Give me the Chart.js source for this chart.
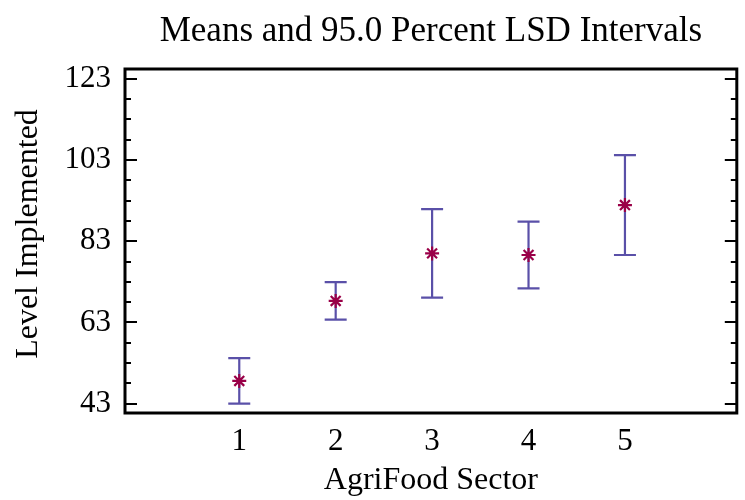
<!DOCTYPE html>
<html>
<head>
<meta charset="utf-8">
<script src="https://cdn.jsdelivr.net/npm/chart.js@4.4.1/dist/chart.umd.min.js"></script>
<style>
html,body{margin:0;padding:0;background:#fff;overflow:hidden;width:745px;height:500px;}
#wrap{position:absolute;left:0;top:0;width:750px;height:500px;}
</style>
</head>
<body>
<div id="wrap"><canvas id="c"></canvas></div>
<script>
const titleText = 'Means and 95.0 Percent LSD Intervals';
const xTitle = 'AgriFood Sector';
const yTitle = 'Level Implemented';
const sectors = [1, 2, 3, 4, 5];
const means = [48.6, 68.3, 80.0, 79.6, 91.9];
const lower = [43.0, 63.7, 69.1, 71.4, 79.6];
const upper = [54.2, 72.9, 90.9, 87.8, 104.2];
const yMajorTicks = [43, 63, 83, 103, 123];
const yMinorTicks = [48, 53, 58, 68, 73, 78, 88, 93, 98, 108, 113, 118];
const xTicks = [1, 2, 3, 4, 5];

const FONT = '"Liberation Serif", "Times New Roman", serif';
const BAR_COLOR = '#5a50a8';
const MARK_COLOR = '#9a0048';

const barPts = [];
sectors.forEach((s, i) => {
  barPts.push({x: s, y: lower[i]});
  barPts.push({x: s, y: upper[i]});
  barPts.push({x: s, y: null});
});

const framePlugin = {
  id: 'frame',
  afterDraw(chart) {
    const ctx = chart.ctx;
    const a = chart.chartArea;
    const y = chart.scales.y;
    ctx.save();
    ctx.strokeStyle = '#000';
    ctx.lineWidth = 2;
    const tick = (v, len) => {
      const py = Math.round(y.getPixelForValue(v));
      ctx.beginPath();
      ctx.moveTo(a.left, py); ctx.lineTo(a.left + len, py);
      ctx.moveTo(a.right, py); ctx.lineTo(a.right - len, py);
      ctx.stroke();
    };
    yMajorTicks.forEach(v => tick(v, 12));
    yMinorTicks.forEach(v => tick(v, 6));
    ctx.lineWidth = 3;
    ctx.strokeRect(a.left, a.top, a.right - a.left, a.bottom - a.top);
    ctx.fillStyle = '#000';
    ctx.font = '35px ' + FONT;
    ctx.textAlign = 'center';
    ctx.textBaseline = 'alphabetic';
    ctx.fillText(titleText, (a.left + a.right) / 2, 41);
    ctx.save();
    ctx.translate(29, 234);
    ctx.rotate(-Math.PI / 2);
    ctx.font = '32px ' + FONT;
    ctx.textBaseline = 'middle';
    ctx.fillText(yTitle, 0, 0);
    ctx.restore();
    ctx.restore();
  }
};

new Chart(document.getElementById('c'), {
  type: 'scatter',
  data: {
    datasets: [
      {
        label: 'Means',
        data: sectors.map((s, i) => ({x: s, y: means[i]})),
        pointStyle: 'star',
        pointRadius: 7,
        pointHoverRadius: 7,
        borderColor: MARK_COLOR,
        backgroundColor: MARK_COLOR,
        pointBorderWidth: 2.2,
        showLine: false
      },
      {
        label: 'LSD',
        data: barPts,
        showLine: true,
        spanGaps: false,
        borderColor: BAR_COLOR,
        borderWidth: 2.2,
        pointStyle: 'line',
        pointRadius: 11,
        pointHoverRadius: 11,
        pointBorderColor: BAR_COLOR,
        pointBorderWidth: 2.2,
        backgroundColor: BAR_COLOR
      }
    ]
  },
  options: {
    responsive: true,
    maintainAspectRatio: false,
    animation: false,
    events: [],
    layout: {padding: {left: 0, right: 4, top: 69, bottom: 0}},
    plugins: {legend: {display: false}, tooltip: {enabled: false}, title: {display: false}},
    scales: {
      x: {
        type: 'linear',
        min: -0.185,
        max: 6.16,
        afterBuildTicks: s => { s.ticks = xTicks.map(v => ({value: v})); },
        afterFit: s => { s.height = 87; },
        grid: {display: false, drawTicks: false},
        border: {display: false},
        ticks: {color: '#000', font: {family: FONT, size: 31}, padding: 10, maxRotation: 0, autoSkip: false},
        title: {display: true, text: xTitle, color: '#000', font: {family: FONT, size: 32}, padding: {top: 0, bottom: 0}}
      },
      y: {
        type: 'linear',
        min: 40.7,
        max: 125.4,
        afterBuildTicks: s => { s.ticks = yMajorTicks.map(v => ({value: v})); },
        afterFit: s => { s.width = 125; },
        grid: {display: false, drawTicks: false},
        border: {display: false},
        ticks: {color: '#000', font: {family: FONT, size: 31}, padding: 14, autoSkip: false},
        title: {display: false}
      }
    }
  },
  plugins: [framePlugin]
});
</script>
</body>
</html>
